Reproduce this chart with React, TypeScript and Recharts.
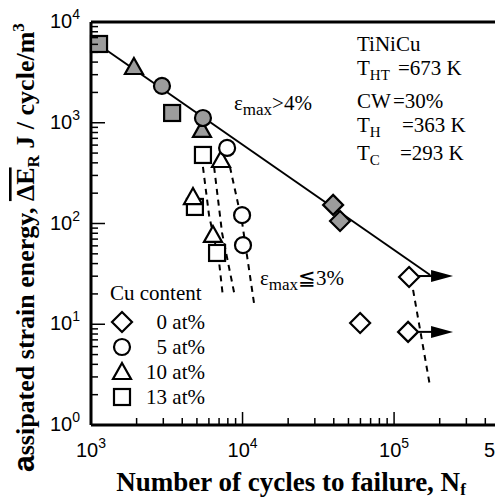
import React from 'react';
import { ScatterChart, Scatter, XAxis, YAxis, ReferenceLine } from 'recharts';

// axis ticks
const xDecades = [1000, 10000, 100000];
const yDecades = [1, 10, 100, 1000, 10000];
const minorSteps = [2, 3, 4, 5, 6, 7, 8, 9];
const xMax = 500000;

const xTicks = [...xDecades, ...xDecades.flatMap((d) => minorSteps.map((m) => m * d))].filter((v) => v <= xMax);
const yTicks = [...yDecades, ...yDecades.slice(0, -1).flatMap((d) => minorSteps.map((m) => m * d))];

// eps_max > 4% (shaded symbols)
const cu13Shaded = [{ x: 1130, y: 6050 }, { x: 3430, y: 1250 }];
const cu10Shaded = [{ x: 1920, y: 3575 }, { x: 5400, y: 850 }];
const cu5Shaded = [{ x: 2940, y: 2320 }, { x: 5480, y: 1115 }];
const cu0Shaded = [{ x: 39600, y: 153 }, { x: 44000, y: 106 }];

// eps_max <= 3% (open symbols)
const cu13Open = [{ x: 5480, y: 479 }, { x: 4850, y: 146 }, { x: 6790, y: 51 }];
const cu10Open = [{ x: 7210, y: 427 }, { x: 4710, y: 183 }, { x: 6380, y: 77 }];
const cu5Open = [{ x: 7910, y: 562 }, { x: 9930, y: 121 }, { x: 10070, y: 61 }];
const cu0Open = [{ x: 125600, y: 29.4 }, { x: 59700, y: 10.3 }, { x: 123700, y: 8.4 }];

// fitted line and dashed guides
const fitLine = [{ x: 1130, y: 5910 }, { x: 173000, y: 30.8 }];
const dashA = [{ x: 5480, y: 364 }, { x: 6010, y: 121 }, { x: 7000, y: 41.5 }, { x: 7430, y: 18.6 }];
const dashB = [{ x: 6490, y: 364 }, { x: 7330, y: 80.5 }, { x: 8920, y: 18.6 }];
const dashC = [{ x: 8260, y: 364 }, { x: 9930, y: 103 }, { x: 11900, y: 16.3 }];
const dashD = [{ x: 133500, y: 21.9 }, { x: 173000, y: 2.38 }];

// run-out arrows
const shaftUpper = [{ x: 144000, y: 30.1 }, { x: 178000, y: 30.1 }];
const shaftLower = [{ x: 144000, y: 8.4 }, { x: 178000, y: 8.4 }];
const arrowTips = [{ x: 245000, y: 30.1 }, { x: 245000, y: 8.4 }];

const legendItems = [
  { kind: 'diamond', label: '0 at%' },
  { kind: 'circle', label: '5 at%' },
  { kind: 'triangle', label: '10 at%' },
  { kind: 'square', label: '13 at%' },
];

const SERIF = 'Liberation Serif, Times New Roman, serif';
const SANS = 'Liberation Sans, Arial, sans-serif';
const GRAY = '#9c9c9c';

function Marker({ kind, cx, cy, filled }: { kind: string; cx: number; cy: number; filled: boolean }) {
  const st = { fill: filled ? GRAY : '#fff', stroke: '#000', strokeWidth: 2.2 };
  if (kind === 'circle') return <circle cx={cx} cy={cy} r={8} {...st} />;
  if (kind === 'square') return <rect x={cx - 8} y={cy - 8} width={16} height={16} {...st} />;
  if (kind === 'triangle')
    return <polygon points={`${cx},${cy - 9} ${cx + 9},${cy + 7} ${cx - 9},${cy + 7}`} {...st} />;
  return <polygon points={`${cx},${cy - 10} ${cx + 10},${cy} ${cx},${cy + 10} ${cx - 10},${cy}`} {...st} />;
}

const shape = (kind: string, filled: boolean) => (p: any) => <Marker kind={kind} cx={p.cx} cy={p.cy} filled={filled} />;
const noShape = () => <g />;
const arrowHead = (p: any) => (
  <polygon points={`${p.cx},${p.cy} ${p.cx - 22},${p.cy - 6} ${p.cx - 22},${p.cy + 6}`} fill="#000" />
);

function XTick(props: any) {
  const { x, y, payload } = props;
  const v = payload.value;
  const major = xDecades.includes(v);
  return (
    <g>
      <line x1={x} x2={x} y1={y} y2={y - (major ? 13 : 7)} stroke="#000" strokeWidth={1.5} />
      {major && (
        <text x={x} y={y + 32} textAnchor="middle" fontFamily={SANS} fontSize={20} fill="#000">
          10<tspan dy={-9} fontSize={14}>{Math.round(Math.log10(v))}</tspan>
        </text>
      )}
      {v === xMax && (
        <text x={x - 16} y={y + 32} fontFamily={SANS} fontSize={20} fill="#000">5</text>
      )}
    </g>
  );
}

function YTick(props: any) {
  const { x, y, payload } = props;
  const v = payload.value;
  const major = yDecades.includes(v);
  return (
    <g>
      <line x1={x} x2={x + (major ? 14 : 7)} y1={y} y2={y} stroke="#000" strokeWidth={1.5} />
      {major && (
        <text x={x - 11} y={y + 6} textAnchor="end" fontFamily={SANS} fontSize={20} fill="#000">
          10<tspan dy={-9} fontSize={14}>{Math.round(Math.log10(v))}</tspan>
        </text>
      )}
    </g>
  );
}

const lineStyle = { stroke: '#000', strokeWidth: 2 };
const dashStyle = { stroke: '#000', strokeWidth: 2, strokeDasharray: '6 5' };

export default function App() {
  return (
    <div style={{ position: 'fixed', left: 0, top: 0, width: 495, height: 499, overflow: 'hidden', background: '#fff' }}>
      <ScatterChart width={510} height={499} margin={{ top: 22, right: 10, bottom: 44, left: 51 }}>
        <XAxis
          type="number"
          dataKey="x"
          scale="log"
          domain={[1000, xMax]}
          ticks={xTicks}
          interval={0}
          tick={<XTick />}
          tickLine={false}
          tickSize={0}
          tickMargin={0}
          height={30}
          axisLine={{ stroke: '#000', strokeWidth: 3 }}
        />
        <YAxis
          type="number"
          dataKey="y"
          scale="log"
          domain={[1, 10000]}
          ticks={yTicks}
          interval={0}
          tick={<YTick />}
          tickLine={false}
          tickSize={0}
          tickMargin={0}
          width={40}
          axisLine={{ stroke: '#000', strokeWidth: 3 }}
        />
        <ReferenceLine y={10000} stroke="#000" strokeWidth={3} />

        <Scatter data={fitLine} line={lineStyle} shape={noShape} isAnimationActive={false} />
        <Scatter data={dashA} line={dashStyle} shape={noShape} isAnimationActive={false} />
        <Scatter data={dashB} line={dashStyle} shape={noShape} isAnimationActive={false} />
        <Scatter data={dashC} line={dashStyle} shape={noShape} isAnimationActive={false} />
        <Scatter data={dashD} line={dashStyle} shape={noShape} isAnimationActive={false} />
        <Scatter data={shaftUpper} line={lineStyle} shape={noShape} isAnimationActive={false} />
        <Scatter data={shaftLower} line={lineStyle} shape={noShape} isAnimationActive={false} />
        <Scatter data={arrowTips} shape={arrowHead} isAnimationActive={false} />

        <Scatter data={cu13Shaded} shape={shape('square', true)} isAnimationActive={false} />
        <Scatter data={cu10Shaded} shape={shape('triangle', true)} isAnimationActive={false} />
        <Scatter data={cu5Shaded} shape={shape('circle', true)} isAnimationActive={false} />
        <Scatter data={cu0Shaded} shape={shape('diamond', true)} isAnimationActive={false} />
        <Scatter data={cu13Open} shape={shape('square', false)} isAnimationActive={false} />
        <Scatter data={cu10Open} shape={shape('triangle', false)} isAnimationActive={false} />
        <Scatter data={cu5Open} shape={shape('circle', false)} isAnimationActive={false} />
        <Scatter data={cu0Open} shape={shape('diamond', false)} isAnimationActive={false} />

        {/* annotations */}
        <g fontFamily={SERIF} fontSize={21} fill="#000">
          <text x={357} y={51}>TiNiCu</text>
          <text x={357} y={75}>T<tspan fontSize={15} dy={5}>HT</tspan><tspan x={398} dy={-5}>=673 K</tspan></text>
          <text x={357} y={108}>CW<tspan x={393}>=30%</tspan></text>
          <text x={357} y={132}>T<tspan fontSize={15} dy={5}>H</tspan><tspan x={402} dy={-5}>=363 K</tspan></text>
          <text x={357} y={160}>T<tspan fontSize={15} dy={5}>C</tspan><tspan x={400} dy={-5}>=293 K</tspan></text>
          <text x={234} y={110}>ε<tspan fontSize={17} dy={5}>max</tspan><tspan dy={-5}>&gt;4%</tspan></text>
          <text x={260} y={285}>ε<tspan fontSize={17} dy={5}>max</tspan><tspan dy={-5}>≦3%</tspan></text>
          <text x={110} y={300}>Cu content</text>
          {legendItems.map((it, i) => (
            <g key={it.label}>
              <Marker kind={it.kind} cx={122} cy={322 + i * 25} filled={false} />
              <text x={205} y={329 + i * 25} textAnchor="end">{it.label}</text>
            </g>
          ))}
        </g>

        {/* axis titles */}
        <text x={291} y={491} textAnchor="middle" fontFamily={SERIF} fontWeight="bold" fontSize={27} fill="#000">
          Number of cycles to failure, N<tspan fontSize={17} dy={4}>f</tspan>
        </text>
        <text transform="translate(34,472) rotate(-90)" fontFamily={SERIF} fontWeight="bold" fontSize={26} fill="#000">
          <tspan fontFamily={SANS} fontSize={30}>a</tspan>
          <tspan>{'ssipated strain energy, '}</tspan>
          <tspan style={{ textDecoration: 'overline' }}>ΔE</tspan>
          <tspan fontSize={17} dy={5}>R</tspan>
          <tspan dy={-5}>{' J / cycle/m'}</tspan>
          <tspan fontSize={17} dy={-10}>3</tspan>
        </text>
      </ScatterChart>
    </div>
  );
}
